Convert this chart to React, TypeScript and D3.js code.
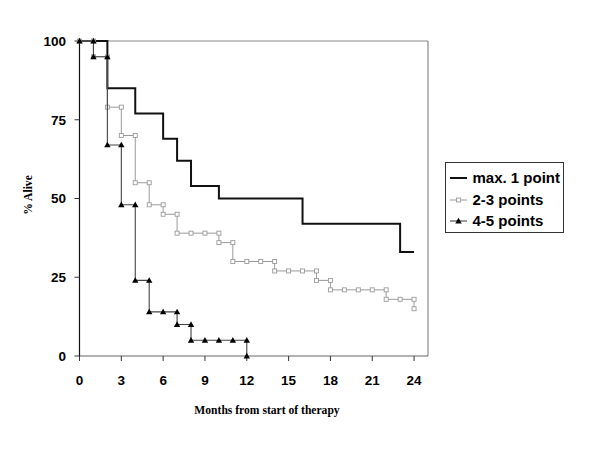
import React from "react";
import * as d3 from "d3";

const seriesNames = ["max. 1 point", "2-3 points", "4-5 points"];

const max1Months = [0, 2, 2, 4, 4, 6, 6, 7, 7, 8, 8, 10, 10, 16, 16, 23, 23, 24];
const max1Values = [100, 100, 85, 85, 77, 77, 69, 69, 62, 62, 54, 54, 50, 50, 42, 42, 33, 33];

const mid23Months = [0, 1, 1, 2, 2, 3, 3, 4, 4, 5, 5, 6, 6, 7, 7, 8, 9, 10, 10, 11, 11, 12, 13, 14, 14, 15, 16, 17, 17, 18, 18, 19, 20, 21, 22, 22, 23, 24, 24];
const mid23Values = [100, 100, 95, 95, 79, 79, 70, 70, 55, 55, 48, 48, 45, 45, 39, 39, 39, 39, 36, 36, 30, 30, 30, 30, 27, 27, 27, 27, 24, 24, 21, 21, 21, 21, 21, 18, 18, 18, 15];

const high45Months = [0, 1, 1, 2, 2, 3, 3, 4, 4, 5, 5, 6, 7, 7, 8, 8, 9, 10, 11, 12, 12];
const high45Values = [100, 100, 95, 95, 67, 67, 48, 48, 24, 24, 14, 14, 14, 10, 10, 5, 5, 5, 5, 5, 0];

const xTicks = [0, 3, 6, 9, 12, 15, 18, 21, 24];
const yTicks = [0, 25, 50, 75, 100];

const xTitle = "Months from start of therapy";
const yTitle = "% Alive";

type Pt = [number, number];
const zip = (a: number[], b: number[]): Pt[] => a.map((v, i) => [v, b[i]]);

export default function App() {
  const W = 600, H = 450;
  const x = d3.scaleLinear().domain([0, 25]).range([79.5, 428]);
  const y = d3.scaleLinear().domain([0, 100]).range([356, 41]);
  const line = d3.line<Pt>().x(d => x(d[0])).y(d => y(d[1]));

  const s1 = zip(max1Months, max1Values);
  const s2 = zip(mid23Months, mid23Values);
  const s3 = zip(high45Months, high45Values);

  const sans = "Arial, 'Liberation Sans', Helvetica, sans-serif";
  const serif = "'Times New Roman', 'Liberation Serif', serif";
  const gray = "#9a9a9a";
  const tri = (cx: number, cy: number, s = 3.2) =>
    `M${cx},${cy - s}L${cx + s},${cy + s * 0.75}L${cx - s},${cy + s * 0.75}Z`;

  const legendRows = [
    { name: seriesNames[0], y: 178 },
    { name: seriesNames[1], y: 200 },
    { name: seriesNames[2], y: 221 },
  ];

  return (
    <svg width={W} height={H} style={{ position: "absolute", left: 0, top: 0, background: "#fff" }}>
      {/* plot border */}
      <line x1={x(0)} x2={x(25)} y1={y(100)} y2={y(100)} stroke="#8a8a8a" strokeWidth={1.2} />
      <line x1={x(25)} x2={x(25)} y1={y(100)} y2={y(0)} stroke="#8a8a8a" strokeWidth={1.2} />
      {/* x axis */}
      <line x1={x(0)} x2={x(25)} y1={y(0)} y2={y(0)} stroke="#666" strokeWidth={1.2} />
      {xTicks.map(t => (
        <g key={"xt" + t}>
          <line x1={x(t)} x2={x(t)} y1={y(0)} y2={y(0) + 5} stroke="#333" />
          <text x={x(t)} y={385} textAnchor="middle" fontFamily={sans} fontWeight="bold" fontSize={13.5}>{t}</text>
        </g>
      ))}
      {/* y axis */}
      <line x1={x(0)} x2={x(0)} y1={y(0)} y2={y(100)} stroke="#111" strokeWidth={1.2} />
      {yTicks.map(t => (
        <g key={"yt" + t}>
          <line x1={x(0) - 5} x2={x(0)} y1={y(t)} y2={y(t)} stroke="#333" />
          <text x={66} y={y(t) + 4.8} textAnchor="end" fontFamily={sans} fontWeight="bold" fontSize={13.5}>{t}</text>
        </g>
      ))}
      <text x={267} y={414} textAnchor="middle" fontFamily={serif} fontWeight="bold" fontSize={11.6}>{xTitle}</text>
      <text transform="translate(32,195) rotate(-90)" textAnchor="middle" fontFamily={serif} fontWeight="bold" fontSize={11.6}>{yTitle}</text>

      {/* series */}
      <path d={line(s1) || ""} fill="none" stroke="#111" strokeWidth={2} />
      <path d={line(s2) || ""} fill="none" stroke={gray} strokeWidth={1} />
      {s2.map((d, i) => (
        <rect key={"sq" + i} x={x(d[0]) - 2} y={y(d[1]) - 2} width={4} height={4} fill="#fff" stroke={gray} strokeWidth={0.9} />
      ))}
      <path d={line(s3) || ""} fill="none" stroke="#444" strokeWidth={1.1} />
      {s3.map((d, i) => (
        <path key={"tr" + i} d={tri(x(d[0]), y(d[1]))} fill="#000" />
      ))}

      {/* legend */}
      <rect x={445.5} y={162.5} width={118} height={70} fill="#fff" stroke="#333" strokeWidth={1} />
      {legendRows.map((r, i) => (
        <g key={"lg" + i}>
          {i === 0 && <line x1={450} x2={467} y1={r.y} y2={r.y} stroke="#111" strokeWidth={2} />}
          {i === 1 && (
            <g>
              <line x1={450} x2={467} y1={r.y} y2={r.y} stroke={gray} strokeWidth={1} />
              <rect x={456.5} y={r.y - 2} width={4} height={4} fill="#fff" stroke={gray} strokeWidth={0.9} />
            </g>
          )}
          {i === 2 && (
            <g>
              <line x1={450} x2={467} y1={r.y} y2={r.y} stroke="#444" strokeWidth={1.1} />
              <path d={tri(458.5, r.y)} fill="#000" />
            </g>
          )}
          <text x={472.5} y={r.y + 5.2} fontFamily={sans} fontWeight="bold" fontSize={15}>{r.name}</text>
        </g>
      ))}
    </svg>
  );
}
